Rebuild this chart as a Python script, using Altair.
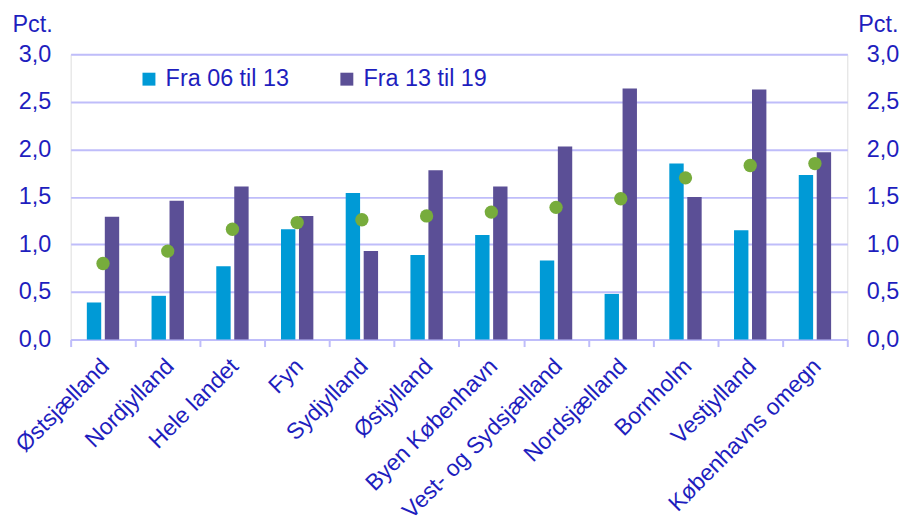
import altair as alt
import pandas as pd

regions = ["Østsjælland", "Nordjylland", "Hele landet", "Fyn", "Sydjylland", "Østjylland",
           "Byen København", "Vest- og Sydsjælland", "Nordsjælland", "Bornholm",
           "Vestjylland", "Københavns omegn"]
series_names = ["Fra 06 til 13", "Fra 13 til 19"]
fra_06_til_13 = [0.39, 0.46, 0.77, 1.16, 1.54, 0.89, 1.10, 0.83, 0.48, 1.85, 1.15, 1.73]
fra_13_til_19 = [1.29, 1.46, 1.61, 1.30, 0.93, 1.78, 1.61, 2.03, 2.64, 1.50, 2.63, 1.97]
dot_values = [0.80, 0.93, 1.16, 1.23, 1.26, 1.30, 1.34, 1.39, 1.48, 1.70, 1.83, 1.85]
y_ticks = [0, 0.5, 1.0, 1.5, 2.0, 2.5, 3.0]

FONT = "Liberation Sans"
FS = 23.5
TXT = "#1E1EBE"
GRID = "#BFBDFA"
colors = ["#009AD6", "#5B4F96"]
DOT = "#77AC3C"

bars = pd.DataFrame({
    "region": regions * 2,
    "series": [series_names[0]] * len(regions) + [series_names[1]] * len(regions),
    "value": fra_06_til_13 + fra_13_til_19,
})
dots = pd.DataFrame({"region": regions, "dot": dot_values})

label_expr = "replace(format(datum.value, '.1f'), '.', ',')"

x_enc = alt.X("region:N", sort=regions, title=None,
              scale=alt.Scale(paddingInner=0, paddingOuter=0),
              axis=alt.Axis(labelAngle=-45, labelAlign="right", labelBaseline="middle",
                            labelPadding=16, labelOffset=2, labelFont=FONT, labelFontSize=23,
                            labelColor=TXT, labelLimit=400, tickBand="extent",
                            domainColor=GRID, domainWidth=2, tickColor=GRID,
                            tickWidth=2, tickSize=7, grid=False))

bar_layer = alt.Chart(bars).mark_bar(stroke=None).encode(
    x=x_enc,
    xOffset=alt.XOffset("series:N", sort=series_names,
                        scale=alt.Scale(paddingInner=0.2, paddingOuter=0.9)),
    y=alt.Y("value:Q", scale=alt.Scale(domain=[0, 3], nice=False),
            axis=alt.Axis(orient="left", values=y_ticks, labelExpr=label_expr,
                          labelFont=FONT, labelFontSize=FS, labelColor=TXT,
                          labelPadding=20, ticks=False, domain=False,
                          grid=True, gridColor=GRID, gridWidth=2,
                          title="Pct.", titleAngle=0, titleAlign="left",
                          titleBaseline="alphabetic", titleX=-59, titleY=-23,
                          titleFont=FONT, titleFontSize=FS, titleFontWeight="normal",
                          titleColor=TXT)),
    color=alt.Color("series:N", sort=series_names,
                    scale=alt.Scale(domain=series_names, range=colors),
                    legend=alt.Legend(title=None, orient="none", direction="horizontal",
                                      legendX=67, legendY=13, symbolType="square",
                                      symbolSize=169, symbolStrokeWidth=0,
                                      labelFont=FONT, labelFontSize=FS, labelColor=TXT,
                                      labelOffset=5, columnPadding=46, padding=0,
                                      labelLimit=400)),
)

dot_layer = alt.Chart(dots).mark_circle(size=180, opacity=1, color=DOT).encode(
    x=alt.X("region:N", sort=regions),
    y=alt.Y("dot:Q", scale=alt.Scale(domain=[0, 3], nice=False),
            axis=alt.Axis(orient="right", values=y_ticks, labelExpr=label_expr,
                          labelFont=FONT, labelFontSize=FS, labelColor=TXT,
                          labelPadding=19, ticks=False, domain=False, grid=False,
                          title="Pct.", titleAngle=0, titleAlign="right",
                          titleBaseline="alphabetic", titleX=51, titleY=-23,
                          titleFont=FONT, titleFontSize=FS, titleFontWeight="normal",
                          titleColor=TXT)),
)

chart = alt.layer(bar_layer, dot_layer).resolve_scale(y="independent").properties(
    width=781, height=287,
    padding={"left": 63, "top": 45, "right": 52, "bottom": 182},
    autosize=alt.AutoSizeParams(type="none"),
).configure_view(stroke=None).configure(background="white")

chart.save("out.html", embed_options={"renderer": "svg", "actions": False})
